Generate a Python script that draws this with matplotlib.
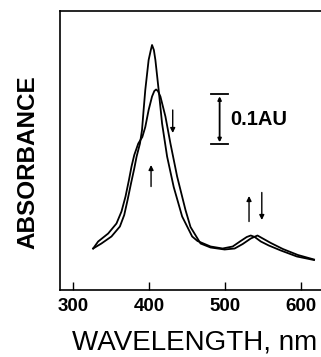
import matplotlib
matplotlib.use('Agg')
import matplotlib.pyplot as plt
import numpy as np

plt.rcParams['font.family'] = ['Liberation Sans', 'DejaVu Sans']

# spectrum with the sharp Soret band (grows)
wl_sharp = [326.2, 337.1, 350.3, 361.4, 367.1, 371.5, 376.0, 380.3, 383.4, 387.8,
            390.5, 392.6, 394.8, 399.2, 402.1, 403.7, 406.1, 408.1, 412.4, 416.9,
            423.5, 432.2, 443.3, 456.5, 463.5, 480.7, 496.6, 509.8, 520.3,
            528.3, 533.6, 538.8, 546.8, 557.3, 573.2, 594.3, 616.8]
abs_sharp = [0.083, 0.093, 0.107, 0.127, 0.150, 0.180, 0.213, 0.243, 0.267, 0.293,
             0.320, 0.360, 0.400, 0.460, 0.480, 0.490, 0.480, 0.460, 0.400, 0.333,
             0.267, 0.206, 0.147, 0.107, 0.098, 0.087, 0.083, 0.087, 0.098,
             0.106, 0.109, 0.106, 0.097, 0.089, 0.079, 0.067, 0.060]

# spectrum with the broad Soret band (decays)
wl_broad = [326.2, 332.8, 346.0, 356.9, 363.5, 368.8, 373.3, 376.7, 380.3, 385.6,
            390.9, 394.8, 399.2, 403.7, 406.7, 409.0, 411.4, 414.7, 421.3, 427.9,
            436.7, 447.7, 454.3, 467.5, 480.7, 499.2, 512.4, 523.0,
            533.6, 542.4, 549.4, 560.0, 575.8, 595.6, 616.8]
abs_broad = [0.083, 0.097, 0.113, 0.133, 0.157, 0.187, 0.220, 0.247, 0.270, 0.293,
             0.306, 0.326, 0.360, 0.387, 0.398, 0.401, 0.398, 0.387, 0.347, 0.293,
             0.227, 0.160, 0.126, 0.093, 0.085, 0.081, 0.083, 0.092,
             0.103, 0.109, 0.103, 0.094, 0.082, 0.070, 0.061]

# change arrows: (x, start, end)
arrows = [(402.4, 0.207, 0.250), (430.9, 0.360, 0.314),
          (531.3, 0.137, 0.188), (548.1, 0.195, 0.140)]

scale_x = 492.6
scale_lo, scale_hi = 0.2914, 0.3914

xticks = [300, 400, 500, 600]

fig = plt.figure(figsize=(3.21, 3.57), dpi=100)
ax = fig.add_axes([60/321, 67/357, 262/321, 279/357])

ax.plot(wl_sharp, abs_sharp, color='black', lw=1.3, solid_joinstyle='round')
ax.plot(wl_broad, abs_broad, color='black', lw=1.3, solid_joinstyle='round')

for x, y0, y1 in arrows:
    ax.annotate('', xy=(x, y1), xytext=(x, y0),
                arrowprops=dict(arrowstyle='-|>', color='black', lw=1.0,
                                mutation_scale=7, shrinkA=0, shrinkB=0))

# 0.1 AU scale bar
ax.annotate('', xy=(scale_x, scale_hi - 0.004), xytext=(scale_x, scale_lo + 0.004),
            arrowprops=dict(arrowstyle='<|-|>', color='black', lw=1.3,
                            mutation_scale=5, shrinkA=0, shrinkB=0))
ax.plot([scale_x - 11, scale_x + 11], [scale_hi, scale_hi], color='black', lw=1.3)
ax.plot([scale_x - 11, scale_x + 11], [scale_lo, scale_lo], color='black', lw=1.3)
ax.text(506, (scale_lo + scale_hi) / 2, '0.1AU', fontsize=14.5, fontweight='bold',
        va='center', ha='left')

ax.set_xlim(282.6, 627.3)
ax.set_ylim(0, 0.558)
ax.set_xticks(xticks)
ax.set_xticklabels([str(t) for t in xticks], fontsize=13.5, fontweight='bold')
ax.set_yticks([])
ax.tick_params(axis='x', direction='in', length=6, width=1.0, pad=6)
ax.spines['right'].set_visible(False)
for s in ['left', 'top', 'bottom']:
    ax.spines[s].set_linewidth(1.2)

fig.text(195/321, 1 - 342.5/357, 'WAVELENGTH, nm', fontsize=20,
         ha='center', va='center')
fig.text(27.5/321, 1 - 162.5/357, 'ABSORBANCE', fontsize=17.5, fontweight='bold',
         rotation=90, ha='center', va='center')

fig.savefig('out.png', dpi=100)
